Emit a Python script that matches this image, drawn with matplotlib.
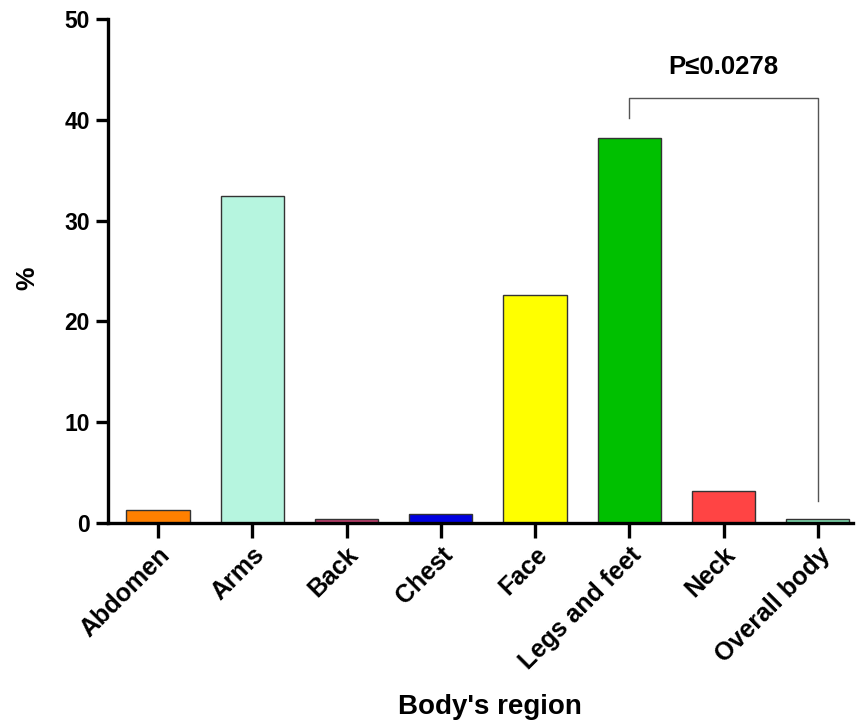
import matplotlib
matplotlib.use('Agg')
import matplotlib.pyplot as plt
import numpy as np

regions = ['Abdomen', 'Arms', 'Back', 'Chest', 'Face', 'Legs and feet', 'Neck', 'Overall body']
percent = [1.3, 32.4, 0.4, 0.9, 22.6, 38.2, 3.2, 0.4]
colors = ['#FF8000', '#B6F5DF', '#C0406E', '#0000E0', '#FFFF00', '#00C000', '#FF4444', '#7FDDB0']
p_text = 'P\u22640.0278'

plt.rcParams['font.family'] = ['Liberation Sans', 'DejaVu Sans']
plt.rcParams['font.weight'] = 'bold'

fig = plt.figure(figsize=(8.6, 7.22), dpi=100)
ax = fig.add_axes([0.1256, 0.2756, 0.866, 0.698])

x = np.arange(len(regions))
ax.bar(x, percent, width=0.67, color=colors, edgecolor='#333333', linewidth=1.0, zorder=2)

ax.set_xlim(-0.53, 7.37)
ax.set_ylim(0, 50)
ax.set_yticks([0, 10, 20, 30, 40, 50])
ax.set_xticks(x)
ax.set_xticklabels(regions, rotation=45, ha='right', rotation_mode='anchor')
for s in ['top', 'right']:
    ax.spines[s].set_visible(False)
for s in ['left', 'bottom']:
    ax.spines[s].set_linewidth(2.4)
ax.tick_params(axis='y', length=9, width=2.4, labelsize=16.5, pad=4)
ax.tick_params(axis='x', length=11, width=2.4, labelsize=18, pad=3)
for t in ax.get_xticklabels() + ax.get_yticklabels():
    t.set_fontweight('bold')

ax.set_ylabel('%', fontsize=19, fontweight='bold')
ax.yaxis.set_label_coords(-0.092, 0.486)
ax.set_xlabel("Body's region", fontsize=20, fontweight='bold')
ax.xaxis.set_label_coords(0.513, -0.34)

# significance bracket between Legs and feet and Overall body
ax.plot([5, 5, 7, 7], [40.2, 42.2, 42.2, 2.2], color='#555555', lw=1.0, zorder=3)
ax.text(6, 44.1, p_text, ha='center', va='bottom', fontsize=18.5, fontweight='bold')

fig.savefig('out.png', dpi=100)
